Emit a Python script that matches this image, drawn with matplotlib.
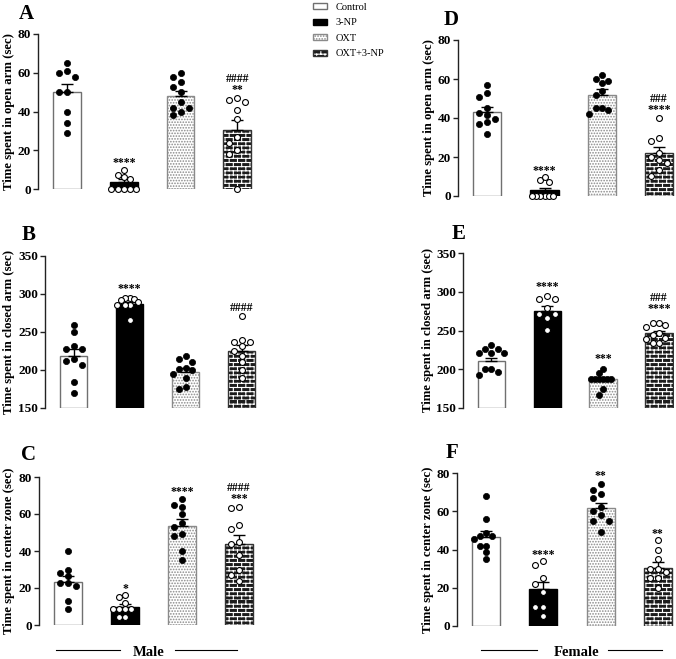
import warnings
warnings.filterwarnings('ignore')
import numpy as np
import matplotlib
matplotlib.use('Agg')
import matplotlib.pyplot as plt
from matplotlib import hatch as mhatch
from matplotlib.patches import Rectangle
from matplotlib.lines import Line2D
from matplotlib.legend_handler import HandlerTuple
from matplotlib.path import Path

# ---------------- data ----------------
groups = ['Control', '3-NP', 'OXT', 'OXT+3-NP']

A_mean = [50.3, 3.8, 48.1, 30.2]
A_sem = [4.0, 1.2, 2.6, 5.5]
A_ctrl = [65, 61, 60, 58, 50, 50, 40, 34, 29]
A_np = [0, 0, 0, 0, 0, 5, 7, 10, 6]
A_oxt = [60, 58, 55, 52.4, 50, 42, 42, 45, 40, 38]
A_oxtnp = [46, 45, 47, 41, 36, 27, 24, 20, 18, 0]

B_mean = [218, 287, 197.8, 225.4]
B_sem = [9.6, 2.5, 4.8, 7.1]
B_ctrl = [259, 250, 232, 228, 227, 214.5, 212, 207, 184, 170]
B_np = [295, 295, 293, 292, 289, 285, 285, 285, 266]
B_oxt = [218, 214, 210.5, 203, 201, 200, 195, 189.5, 177.5, 175]
B_oxtnp = [271, 240, 236.5, 236.5, 231, 224.5, 219, 210, 200.5, 189.5]

C_mean = [23.4, 9.9, 53.6, 44.0]
C_sem = [3.2, 1.3, 3.6, 4.7]
C_ctrl = [40, 30, 28, 26.4, 22.8, 22.5, 21, 13, 8.8]
C_np = [16, 15, 12, 8.4, 8.4, 8.4, 8.4, 4.1, 4.1]
C_oxt = [68, 65, 64, 60, 55, 53, 49, 48, 40, 35]
C_oxtnp = [64, 63, 54, 52, 45, 44, 38, 29.7, 27, 23.7]

D_mean = [42.9, 3.1, 52.0, 21.9]
D_sem = [2.9, 1.2, 2.7, 3.2]
D_ctrl = [57, 53, 51, 45, 42.4, 41.5, 39.5, 38, 37, 32]
D_np = [0, 0, 0, 0, 0, 0, 8, 7, 10]
D_oxt = [62, 60, 59, 58, 54, 52, 45, 45, 44, 42]
D_oxtnp = [40, 30, 28, 22, 20, 18.5, 16.8, 13.3, 10.3]

E_mean = [211, 275.6, 187.2, 246.5]
E_sem = [4, 5.4, 1.8, 3.5]
E_ctrl = [231, 226.5, 226.5, 221, 220.5, 220.5, 200, 200, 196.6, 192]
E_np = [294.6, 290.4, 290.4, 279, 271, 271, 266, 251]
E_oxt = [200, 195.7, 187, 187, 187, 187, 187, 187, 175, 167]
E_oxtnp = [260, 260, 257, 254, 247, 244, 240.6, 239, 234, 234]

F_mean = [46.6, 19.3, 61.9, 30.4]
F_sem = [3.0, 3.8, 2.6, 3.2]
F_ctrl = [68, 56, 48.7, 47, 47, 45.7, 42, 42, 38.6, 35]
F_np = [34, 32, 25, 22, 18, 10, 10, 5]
F_oxt = [74, 71, 69, 67, 62, 60, 58, 55, 55, 49]
F_oxtnp = [45, 40, 35, 30, 30, 28, 25, 25, 20]

A_ann = [(1, '****', 13.3), (3, '**', 51), (3, '####', 57)]
B_ann = [(1, '****', 306.5), (3, '####', 281)]
C_ann = [(1, '*', 19.2), (2, '****', 72), (3, '***', 68), (3, '####', 74)]
D_ann = [(1, '****', 13), (3, '****', 44), (3, '###', 50)]
E_ann = [(1, '****', 306.5), (2, '***', 213.7), (3, '****', 277.6), (3, '###', 292.5)]
F_ann = [(1, '****', 37), (2, '**', 78.3), (3, '**', 48.3)]

ylab_open = 'Time spent in open arm (sec)'
ylab_closed = 'Time spent in closed arm (sec)'
ylab_center = 'Time spent in center zone (sec)'

ticks_80 = [0, 20, 40, 60, 80]
ticks_350 = [150, 200, 250, 300, 350]


# ---------------- brick hatch ----------------
class BrickHatch(mhatch.HatchPatternBase):
    def __init__(self, hatch, density):
        self.rows = 24 * hatch.count('b')
        n = self.rows
        self.num_vertices = 2 * (n + n * (n // 2))

    def set_vertices_and_codes(self, vertices, codes):
        n = self.rows
        segs = []
        for i in range(n):
            y0 = i / n
            segs.append(((0.0, y0), (1.0, y0)))
            off = (i % 2) / n
            for j in range(n // 2):
                x = j * 2.0 / n + off
                segs.append(((x, y0), (x, y0 + 1.0 / n)))
        vertices[:] = np.array(segs).reshape(-1, 2)
        codes[0::2] = Path.MOVETO
        codes[1::2] = Path.LINETO


mhatch._hatch_types.append(BrickHatch)

plt.rcParams['font.family'] = ['Liberation Serif', 'DejaVu Serif']
plt.rcParams['font.weight'] = 'bold'
plt.rcParams['hatch.linewidth'] = 0.8

W, H = 676, 659
fig = plt.figure(figsize=(W / 100, H / 100), dpi=100)

BW = 0.49
XL = (-0.51, 3.28)
EDGE_GRAY = '#707070'
DARK = '#1c1c1c'


def px_axes(left, top, bottom, spacing):
    right = left + (XL[1] - XL[0]) * spacing
    return fig.add_axes([left / W, 1 - bottom / H, (right - left) / W, (bottom - top) / H])


def swarm(ax, x0, values, diam=6.6, step=8.0, limit=12.5):
    tr = ax.transData
    ys = np.array([tr.transform((x0, v))[1] for v in values])
    order = np.argsort(-ys, kind='stable')
    placed = []
    offs = np.zeros(len(values))
    cands = [0.0]
    for m in range(1, 12):
        cands += [-m * step, m * step]
    for i in order:
        y = ys[i]
        for c in cands:
            if all((c - px) ** 2 + (y - py) ** 2 >= (0.95 * diam) ** 2 for px, py in placed):
                offs[i] = c
                placed.append((c, y))
                break
    mx = np.max(np.abs(offs)) if len(offs) else 0
    if mx > limit:
        offs = offs * limit / mx
    pxu = tr.transform((1, 0))[0] - tr.transform((0, 0))[0]
    return x0 + offs / pxu


def panel(spec, means, sems, pts, ann, ylab, ticks, letter, letter_px, label_px):
    ax = px_axes(*spec)
    base = ticks[0]
    ax.set_xlim(*XL)
    ax.set_ylim(ticks[0], ticks[-1])
    x = np.arange(4)
    h = [m - base for m in means]
    ax.bar(x[0], h[0], bottom=base, width=BW, facecolor='white', edgecolor=EDGE_GRAY, lw=1.0, zorder=2)
    ax.bar(x[1], h[1], bottom=base, width=BW, facecolor='black', edgecolor='black', lw=1.0, zorder=2)
    ax.bar(x[2], h[2], bottom=base, width=BW, facecolor='white', edgecolor='#8a8a8a', hatch='......',
           lw=1.0, zorder=2)
    ax.bar(x[3], h[3], bottom=base, width=BW, facecolor=DARK, edgecolor='white', hatch='b', lw=0, zorder=2)
    ax.bar(x[3], h[3], bottom=base, width=BW, facecolor='none', edgecolor='#333333', lw=1.0, zorder=2.1)
    ax.errorbar(x, means, yerr=[np.zeros(4), sems], fmt='none', ecolor='black', elinewidth=1.0,
                capsize=4.5, capthick=1.0, zorder=3)
    for i, vals in enumerate(pts):
        xs = swarm(ax, x[i], vals)
        if i in (0, 2):
            ax.scatter(xs, vals, s=20, facecolor='black', edgecolor='black', lw=0.5, zorder=4, clip_on=False)
        else:
            ax.scatter(xs, vals, s=18, facecolor='white', edgecolor='black', lw=0.8, zorder=4, clip_on=False)
    for gi, txt, yv in ann:
        ax.text(x[gi], yv, txt, ha='center', va='center', fontsize=8.5, fontweight='bold', zorder=5)
    for s in ('top', 'right', 'bottom'):
        ax.spines[s].set_visible(False)
    ax.spines['left'].set_linewidth(1.0)
    ax.spines['left'].set_color('#222222')
    ax.set_xticks([])
    ax.set_yticks(ticks)
    ax.tick_params(axis='y', direction='out', length=3.5, width=1.0, labelsize=9.5, pad=1.5,
                   color='#222222')
    for lab in ax.get_yticklabels():
        lab.set_fontweight('bold')
    ax.set_ylabel(ylab, fontsize=9.2, fontweight='bold')
    left, top, bottom = spec[0], spec[1], spec[2]
    right = left + (XL[1] - XL[0]) * spec[3]
    ax.yaxis.set_label_coords((label_px - left) / (right - left), 0.5)
    fig.text(letter_px[0] / W, 1 - letter_px[1] / H, letter, ha='center', va='center',
             fontsize=15, fontweight='bold')
    return ax


panel((38, 34, 189, 56.8), A_mean, A_sem, [A_ctrl, A_np, A_oxt, A_oxtnp], A_ann, ylab_open, ticks_80,
      'A', (26, 14), 15)
panel((45, 256, 408, 56.0), B_mean, B_sem, [B_ctrl, B_np, B_oxt, B_oxtnp], B_ann, ylab_closed, ticks_350,
      'B', (29, 235), 15)
panel((39, 477, 625, 57.0), C_mean, C_sem, [C_ctrl, C_np, C_oxt, C_oxtnp], C_ann, ylab_center, ticks_80,
      'C', (29, 455), 15.5)
panel((458, 40, 196, 57.3), D_mean, D_sem, [D_ctrl, D_np, D_oxt, D_oxtnp], D_ann, ylab_open, ticks_80,
      'D', (451, 20), 435)
panel((463, 253, 408, 55.8), E_mean, E_sem, [E_ctrl, E_np, E_oxt, E_oxtnp], E_ann, ylab_closed, ticks_350,
      'E', (459, 234), 434)
panel((457, 473, 626, 57.2), F_mean, F_sem, [F_ctrl, F_np, F_oxt, F_oxtnp], F_ann, ylab_center, ticks_80,
      'F', (452, 453), 434)

# sex labels with rules
def sex_label(text, xc, l1, l2):
    fig.text(xc / W, 1 - 652 / H, text, ha='center', va='center', fontsize=10.5, fontweight='bold')
    for a, b in (l1, l2):
        fig.add_artist(Line2D([a / W, b / W], [1 - 650 / H, 1 - 650 / H], color='black', lw=0.8))


sex_label('Male', 149, (56, 120), (175, 237))
sex_label('Female', 577, (481, 537), (608, 662))

# legend
h_ctrl = Rectangle((0, 0), 1, 1, facecolor='white', edgecolor=EDGE_GRAY, lw=1.0)
h_np = Rectangle((0, 0), 1, 1, facecolor='black', edgecolor='black', lw=1.0)
h_oxt = Rectangle((0, 0), 1, 1, facecolor='white', edgecolor='#8a8a8a', hatch='......', lw=1.0)
h_b1 = Rectangle((0, 0), 1, 1, facecolor=DARK, edgecolor='white', hatch='b', lw=0)
h_b2 = Rectangle((0, 0), 1, 1, facecolor='none', edgecolor='#333333', lw=1.0)
fig.legend([h_ctrl, h_np, h_oxt, (h_b1, h_b2)], groups, loc='upper left',
           bbox_to_anchor=(313 / W, 1 - 3 / H), frameon=False, borderpad=0, borderaxespad=0,
           handlelength=1.3, handleheight=0.55, handletextpad=0.9, labelspacing=0.62,
           prop={'family': 'Liberation Serif', 'weight': 'normal', 'size': 7.5},
           handler_map={tuple: HandlerTuple(ndivide=1, pad=0)})

fig.savefig('out.png', dpi=100)
